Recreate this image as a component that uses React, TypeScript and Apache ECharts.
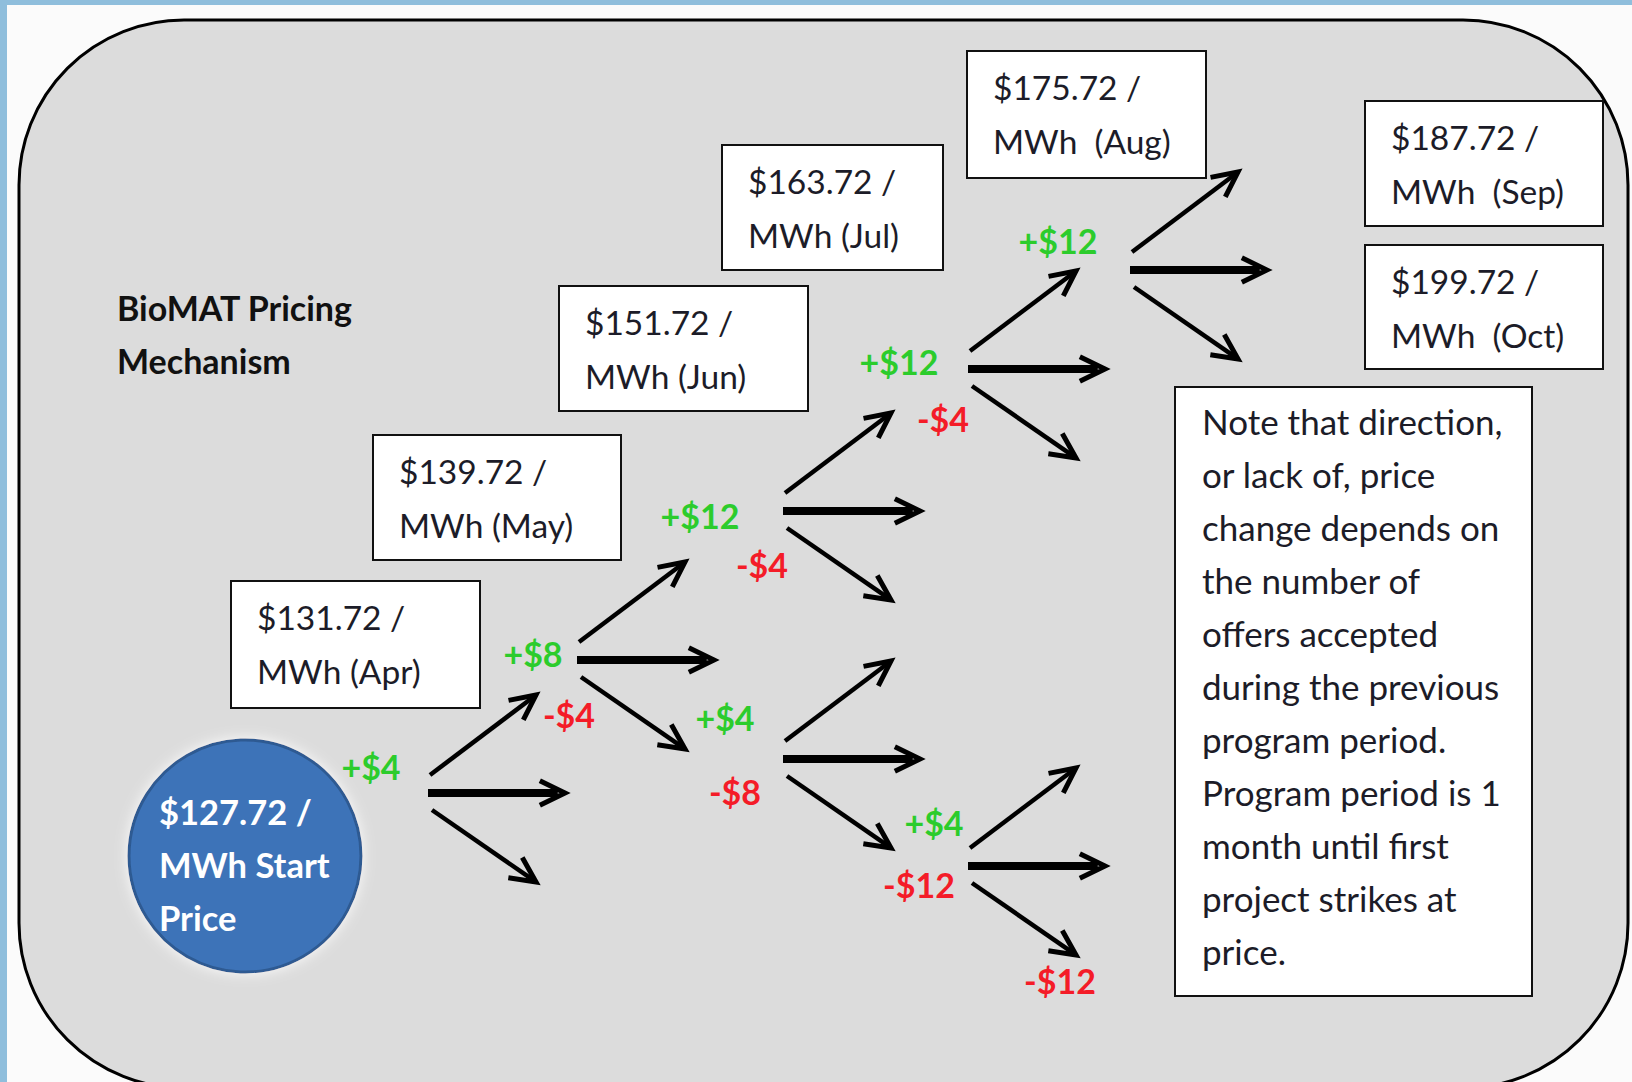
import React, { useEffect, useRef } from "react";
import * as echarts from "echarts";

// ---- data ----
const startPrice = 127.72;
const months = ["Apr", "May", "Jun", "Jul", "Aug", "Sep", "Oct"];
const prices = [131.72, 139.72, 151.72, 163.72, 175.72, 187.72, 199.72];
const monthSpacer = [" ", " ", " ", " ", "  ", "  ", "  "];
const changeLabels = ["+$4", "+$8", "-$4", "+$12", "-$4", "+$4", "-$8", "+$12", "-$4", "+$12", "+$4", "-$12", "-$12"];
const titleLines = ["BioMAT Pricing", "Mechanism"];
const startLines = [`$${startPrice.toFixed(2)} /`, "MWh Start", "Price"];
const noteLines = [
  "Note that direction,",
  "or lack of, price",
  "change depends on",
  "the number of",
  "offers accepted",
  "during the previous",
  "program period.",
  "Program period is 1",
  "month until first",
  "project strikes at",
  "price.",
];

// ---- layout (pixels) ----
const boxRects = [
  [231, 581, 249, 127],
  [373, 435, 248, 125],
  [559, 286, 249, 125],
  [722, 145, 221, 125],
  [967, 51, 239, 127],
  [1365, 101, 238, 125],
  [1365, 245, 238, 124],
];
const changePos = [
  [371, 766], [533, 653], [569, 714], [700, 515], [762, 564], [725, 717], [735, 791],
  [899, 361], [943, 418], [1058, 240], [934, 822], [919, 884], [1060, 980],
];
const arrowOrigins = [
  [428, 793], [577, 660], [783, 511], [968, 369], [1130, 270], [783, 759], [968, 866],
];

const FONT = "Lato, 'Noto Sans', sans-serif";
const GREEN = "#2ccc2c";
const RED = "#f41c28";

function arrow(x1: number, y1: number, x2: number, y2: number, w: number) {
  const ang = Math.atan2(y2 - y1, x2 - x1);
  const L = 28;
  const a = (26 * Math.PI) / 180;
  const p1 = [x2 - L * Math.cos(ang - a), y2 - L * Math.sin(ang - a)];
  const p2 = [x2 - L * Math.cos(ang + a), y2 - L * Math.sin(ang + a)];
  const back = w * 0.9;
  return [
    {
      type: "line",
      shape: { x1, y1, x2: x2 - back * Math.cos(ang), y2: y2 - back * Math.sin(ang) },
      style: { stroke: "#000", lineWidth: w, lineCap: "butt" },
    },
    {
      type: "polyline",
      shape: { points: [p1, [x2, y2], p2] },
      style: { stroke: "#000", lineWidth: 5, fill: null, lineJoin: "miter", lineCap: "butt" },
    },
  ];
}

function arrowGroup(ox: number, oy: number) {
  return {
    type: "group",
    x: ox,
    y: oy,
    children: [
      ...arrow(2, -18, 108, -98, 4.5),
      ...arrow(0, 0, 137, 0, 8),
      ...arrow(4, 17, 108, 89, 4.5),
    ],
  };
}

export default function App() {
  const ref = useRef<HTMLDivElement>(null);
  useEffect(() => {
    if (!ref.current) return;
    const chart = echarts.init(ref.current, undefined, { renderer: "svg" });
    const elements: any[] = [];

    // page background
    elements.push({ type: "rect", shape: { x: 0, y: 0, width: 1632, height: 1082 }, style: { fill: "#8fbedc" } });
    elements.push({ type: "rect", shape: { x: 7, y: 5, width: 1625, height: 1077 }, style: { fill: "#fbfbfb" } });
    // main rounded panel
    elements.push({
      type: "rect",
      shape: { x: 19, y: 20, width: 1609, height: 1068, r: 165 },
      style: { fill: "#dcdcdc", stroke: "#000", lineWidth: 3 },
    });

    // title
    titleLines.forEach((t, i) => {
      elements.push({
        type: "text",
        x: 117,
        y: 307 + i * 53,
        style: { text: t, font: `bold 34px ${FONT}`, fill: "#111", textAlign: "left", textVerticalAlign: "middle" },
      });
    });

    // start circle
    elements.push({
      type: "circle",
      shape: { cx: 245, cy: 856, r: 116 },
      style: {
        fill: "#3d73b8",
        stroke: "#2d5a92",
        lineWidth: 3,
        shadowBlur: 14,
        shadowColor: "rgba(255,255,255,0.9)",
      },
    });
    startLines.forEach((t, i) => {
      elements.push({
        type: "text",
        x: 159,
        y: 811 + i * 53,
        style: { text: t, font: `bold 34.5px ${FONT}`, fill: "#ffffff", textAlign: "left", textVerticalAlign: "middle" },
      });
    });

    // price boxes
    prices.forEach((p, i) => {
      const [bx, by, bw, bh] = boxRects[i];
      elements.push({
        type: "rect",
        shape: { x: bx, y: by, width: bw, height: bh },
        style: { fill: "#ffffff", stroke: "#111", lineWidth: 2 },
      });
      const lines = [`$${p.toFixed(2)} /`, `MWh${monthSpacer[i]}(${months[i]})`];
      lines.forEach((t, j) => {
        elements.push({
          type: "text",
          x: bx + 26,
          y: by + 36 + j * 54,
          style: { text: t, font: `33.5px ${FONT}`, fill: "#1c1c28", textAlign: "left", textVerticalAlign: "middle" },
        });
      });
    });

    // note box
    elements.push({
      type: "rect",
      shape: { x: 1175, y: 387, width: 357, height: 609 },
      style: { fill: "#ffffff", stroke: "#111", lineWidth: 2 },
    });
    noteLines.forEach((t, i) => {
      elements.push({
        type: "text",
        x: 1202,
        y: 421 + i * 53,
        style: { text: t, font: `35px ${FONT}`, fill: "#1c1c28", textAlign: "left", textVerticalAlign: "middle" },
      });
    });

    // arrows
    arrowOrigins.forEach(([ox, oy]) => elements.push(arrowGroup(ox, oy)));

    // change labels
    changeLabels.forEach((t, i) => {
      const [cx, cy] = changePos[i];
      elements.push({
        type: "text",
        x: cx,
        y: cy,
        style: {
          text: t,
          font: `bold 34px ${FONT}`,
          fill: t.startsWith("+") ? GREEN : RED,
          textAlign: "center",
          textVerticalAlign: "middle",
        },
      });
    });

    chart.setOption({ animation: false, graphic: { elements } });
    return () => chart.dispose();
  }, []);
  return <div ref={ref} style={{ position: "absolute", left: 0, top: 0, width: 1632, height: 1082 }} />;
}
